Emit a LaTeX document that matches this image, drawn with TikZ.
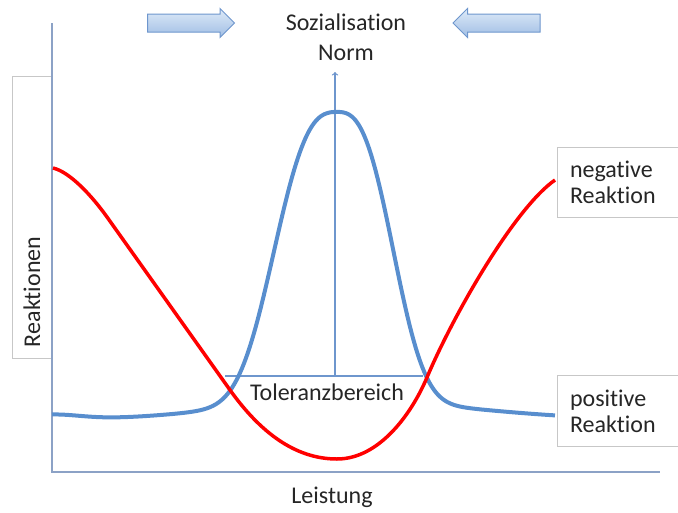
\documentclass[tikz,border=0pt]{standalone}
\usepackage{fontspec}
\setmainfont{Carlito}[Ligatures=NoCommon]
\usetikzlibrary{shapes.arrows}

\definecolor{kurveblau}{RGB}{88,142,206}
\definecolor{achsblau}{RGB}{140,162,198}
\definecolor{pfeilrand}{RGB}{110,150,205}
\definecolor{pfeilhell}{RGB}{222,234,248}
\definecolor{pfeildunkel}{RGB}{160,190,228}

\tikzset{
  textstil/.style={font=\fontsize{24}{26}\selectfont, text=black!85},
  labelbox/.style={textstil, draw=black!22, fill=white, line width=1pt, align=left, inner xsep=10pt},
  blockpfeil/.style={single arrow, draw=pfeilrand, line width=1pt, top color=pfeilhell, bottom color=pfeildunkel,
    minimum height=87pt, minimum width=28pt, single arrow head extend=5.5pt, inner sep=0pt, text height=17pt},
  achse/.style={achsblau, line width=2pt},
  normlinie/.style={pfeilrand, line width=1.3pt}
}

\begin{document}
\begin{tikzpicture}[x=1pt, y=-1pt]
\useasboundingbox (0,0) rectangle (678,512);

% Beschriftungen
\node[labelbox, rotate=90, minimum width=282pt, minimum height=40pt, text width=260pt] (reaktionen) at (32,217) {Reaktionen};
\node[labelbox, anchor=north west, minimum width=135pt, minimum height=70pt, text width=110pt] (negativ) at (557,147) {negative\\Reaktion};
\node[labelbox, anchor=north west, minimum width=135pt, minimum height=71pt, text width=110pt] (positiv) at (557,375) {positive\\Reaktion};

% Achsen
\draw[achse] (52,23) -- (52,472) -- (660,472);
\node[textstil] (leistung) at (332,497) {Leistung};

% Sozialisation / Norm
\node[blockpfeil, shape border rotate=0] (pfeillinks) at (186.5,23) {};
\node[blockpfeil, shape border rotate=180] (pfeilrechts) at (501,23) {};
\node[textstil, align=center, font=\fontsize{24}{30}\selectfont] (norm) at (346,37) {Sozialisation\\Norm};

% Toleranzbereich
\coordinate (tlinks) at (225,376);
\coordinate (trechts) at (423,376);
\coordinate (tmitte) at (335,376);
\coordinate (spitze) at (335,72);
\draw[normlinie] (tlinks) -- (trechts);
\draw[normlinie, ->] (tmitte) -- (spitze);
\node[textstil] (toleranz) at (327,392) {Toleranzbereich};

% Kurven
\draw[kurveblau, line width=4pt] plot[smooth, domain=52:555, samples=160] (\x, {420
  - 5*exp(-min(((\x-52)/40)^2, 10))
  - 288*exp(-min(pow(abs(\x-337)/(\x<337 ? 74 : 66) + 0.001, 2.8), 10))
  - 20*exp(-min(((\x-337)/(\x<337 ? 150 : 180))^2, 10))});
\draw[red, line width=3.5pt] (53,168) .. controls (70,172) and (92,196) .. (107,217)
  -- (230,390) .. controls (260,432) and (295,459) .. (337,459)
  .. controls (380,459) and (413,412) .. (428,375)
  .. controls (455,312) and (515,208) .. (555,180);

\end{tikzpicture}
\end{document}
